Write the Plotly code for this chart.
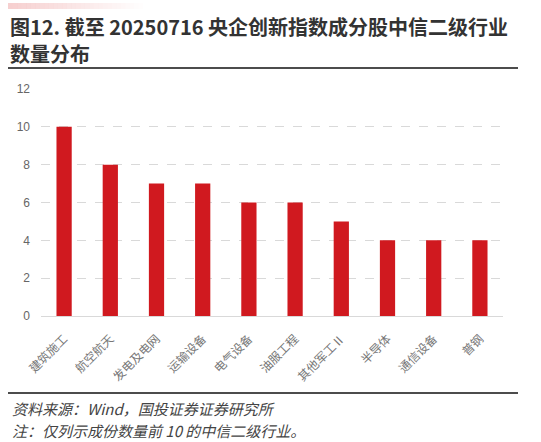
import plotly.graph_objects as go

categories = ["建筑施工", "航空航天", "发电及电网", "运输设备", "电气设备",
              "油服工程", "其他军工Ⅱ", "半导体", "通信设备", "普钢"]
counts = [10, 8, 7, 7, 6, 6, 5, 4, 4, 4]
y_ticks = [0, 2, 4, 6, 8, 10, 12]

W, H = 541, 442
L, R, T, B = 41, 38, 89, 126

fig = go.Figure()
fig.add_trace(go.Bar(x=categories, y=counts, marker=dict(color="#D0191F", line=dict(width=0)),
                     width=0.33))

def px(x):
    return (x - L) / (W - L - R)

def py(y):
    return (H - B - y) / (H - T - B)

shapes = []
# gradient bar at top
n = 30
for i in range(n):
    x0 = 8 + i * 4.5
    shapes.append(dict(type="rect", xref="paper", yref="paper",
                       x0=px(x0), x1=px(x0 + 4.6), y0=py(9), y1=py(3),
                       fillcolor="rgba(230,120,120,%.3f)" % (0.35 * (1 - i / n)), line=dict(width=0), layer="above"))
shapes.append(dict(type="line", xref="paper", yref="paper", x0=px(8), x1=px(518), y0=py(68), y1=py(68),
                   line=dict(color="#111", width=1.5)))
shapes.append(dict(type="line", xref="paper", yref="paper", x0=px(8), x1=px(518), y0=py(393), y1=py(393),
                   line=dict(color="#111", width=1.5)))

annotations = [
    dict(text="<b>图12. 截至 20250716 央企创新指数成分股中信二级行业</b>", xref="paper", yref="paper",
         x=px(8), y=py(26), xanchor="left", yanchor="middle", showarrow=False,
         font=dict(size=20, color="#333", family="Noto Sans CJK SC")),
    dict(text="<b>数量分布</b>", xref="paper", yref="paper",
         x=px(8), y=py(54), xanchor="left", yanchor="middle", showarrow=False,
         font=dict(size=20, color="#333", family="Noto Sans CJK SC")),
    dict(text="<i>资料来源：Wind，国投证券证券研究所</i>", xref="paper", yref="paper",
         x=px(10), y=py(408), xanchor="left", yanchor="middle", showarrow=False,
         font=dict(size=15, color="#444", family="Noto Sans CJK SC")),
    dict(text="<i>注：仅列示成份数量前 10 的中信二级行业。</i>", xref="paper", yref="paper",
         x=px(10), y=py(430), xanchor="left", yanchor="middle", showarrow=False,
         font=dict(size=15, color="#444", family="Noto Sans CJK SC")),
]

fig.update_layout(
    width=W, height=H,
    margin=dict(l=L, r=R, t=T, b=B, pad=0),
    paper_bgcolor="white", plot_bgcolor="white",
    showlegend=False, bargap=0.67,
    shapes=shapes, annotations=annotations,
    font=dict(family="Noto Sans CJK SC", color="#666"),
    xaxis=dict(tickangle=-45, tickfont=dict(size=12, color="#777"), showline=True,
               linecolor="#D9D9D9", linewidth=1, ticks="", showgrid=False, ticklabelstandoff=10),
    yaxis=dict(range=[0, 12], tickvals=y_ticks, tickfont=dict(size=12, color="#666", family="Liberation Sans"),
               showgrid=True, gridcolor="#D9D9D9", griddash="dash", gridwidth=1,
               zeroline=False, ticks="", ticklabelstandoff=10),
)

fig.write_html("out.html", config={"displayModeBar": False},
               post_script="document.body.style.margin='0';")
